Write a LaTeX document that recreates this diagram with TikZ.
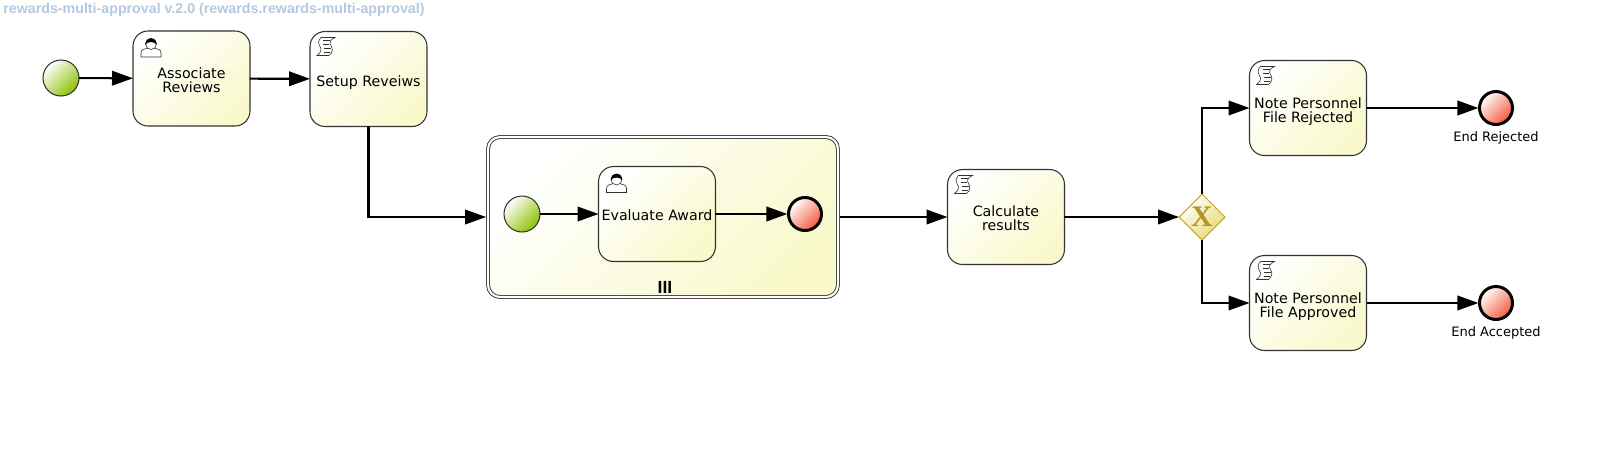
\documentclass[tikz,border=0pt]{standalone}
\usepackage{fontspec}
\setmainfont{DejaVu Sans}
\newfontfamily\titlefont{Liberation Sans}
\newfontfamily\gatefont{Liberation Serif}
\usetikzlibrary{arrows.meta,shapes.geometric}
\definecolor{titleblue}{HTML}{B4C8E0}
\definecolor{taskyellow}{HTML}{F9F9CC}
\definecolor{startgreen}{HTML}{8CC000}
\definecolor{endred}{HTML}{F4583C}
\definecolor{gategold}{HTML}{E8DA70}
\definecolor{gateline}{HTML}{C8A030}
\definecolor{gatex}{HTML}{B8922A}
\tikzset{
  tasknode/.style={draw=black!80,line width=.6pt,rounded corners=.3cm,minimum width=2.34cm,minimum height=1.9cm,outer sep=0pt,inner xsep=0pt,
    top color=white,bottom color=taskyellow,shading angle=45,align=center,font=\fontsize{8.1}{8}\selectfont,
    text height=#1,text depth=0pt},
  tasknode/.default=7.5pt,
  subnode/.style={draw=black!80,line width=.5pt,double=white,double distance=1.2pt,rounded corners=.24cm,minimum width=7cm,minimum height=3.2cm,
    outer sep=1.1pt,top color=white,bottom color=taskyellow,shading angle=45},
  startevent/.style={circle,draw=black!80,line width=.6pt,minimum size=.72cm,outer sep=0pt,top color=white,bottom color=startgreen,shading angle=45},
  endevent/.style={circle,draw=black,line width=1.7pt,minimum size=.66cm,outer sep=.6pt,top color=white,bottom color=endred,shading angle=45},
  gatenode/.style={diamond,draw=gateline,line width=.6pt,minimum size=.92cm,inner sep=0pt,outer sep=0pt,top color=white,bottom color=gategold,shading angle=45,
    text=gatex,font=\fontsize{17}{17}\bfseries\gatefont},
  endlabel/.style={font=\fontsize{7.4}{8}\selectfont,inner sep=0pt,yshift=-.12cm},
  flowline/.style={line width=1.2pt,-{Triangle[length=.42cm,width=.29cm]}},
  usericon/.pic={
    \draw[fill=white,draw=black!80,line width=.35pt] (-10,10) -- (-10,6) .. controls (-10,2) and (-6,2) .. (-3,1) -- (3,1) .. controls (6,2) and (10,2) .. (10,6) -- (10,10) -- cycle;
    \draw[fill=white,draw=black!80,line width=.35pt] (0,-3) circle (5.5);
    \fill[black] (-5.5,-2) .. controls (-6.5,-11) and (6.5,-11) .. (5.5,-2) .. controls (4,-6) and (-4,-6) .. cycle;
  },
  scripticon/.pic={
    \draw[fill=white,draw=black!80,line width=.35pt] (-5,-9) -- (9,-9) .. controls (4,-7) and (3,-4) .. (5,-1) .. controls (7,2) and (7,6) .. (3,9) -- (-9,9) .. controls (-5,6) and (-4,3) .. (-6,0) .. controls (-8,-3) and (-8,-6) .. cycle;
    \draw[draw=black!80,line width=.35pt] (-3,-6) -- (4,-6) (-3,-2) -- (3,-2) (-2,2) -- (5,2) (-2,6) -- (4,6);
  }
}
\begin{document}
\begin{tikzpicture}[x=.02cm,y=-.02cm]
  \useasboundingbox (0,0) rectangle (1600,451);
  \node [anchor=west,inner sep=0pt,text=titleblue,font=\fontsize{8.1}{9}\bfseries\titlefont] (title) at (3,10) {rewards-multi-approval v.2.0 (rewards.rewards-multi-approval)};
  % top row
  \node [startevent] (start) at (61,78) {};
  \node [tasknode=15.5pt] (assoc) at (191.5,78.5) {Associate\\Reviews};
  \node [tasknode=8.1pt] (setup) at (368.5,79) {Setup Reveiws};
  % multi instance block
  \node [subnode] (multi) at (663,217) {};
  \node [font=\fontsize{10}{10}\bfseries\titlefont] (marker) at (665,287) {III};
  \node [startevent] (substart) at (522,214) {};
  \node [tasknode] (evaluate) at (657,214) {Evaluate Award};
  \node [endevent] (subend) at (805,214) {};
  % right part
  \node [tasknode=15.3pt] (calc) at (1006,217) {Calculate\\results};
  \node [gatenode] (gate) at (1202,217) {X};
  \node [tasknode=16.9pt] (rejected) at (1308,108) {Note Personnel\\File Rejected};
  \node [tasknode=16.5pt] (approved) at (1308,303) {Note Personnel\\File Approved};
  \node [endevent,label={[endlabel]below:End Rejected}] (endrej) at (1496,108) {};
  \node [endevent,label={[endlabel]below:End Accepted}] (endacc) at (1496,303) {};
  % icons
  \pic at ([shift={(18,16)}]assoc.north west) {usericon};
  \pic at ([shift={(16,15)}]setup.north west) {scripticon};
  \pic at ([shift={(18,16)}]evaluate.north west) {usericon};
  \pic at ([shift={(16,15)}]calc.north west) {scripticon};
  \pic at ([shift={(16,15)}]rejected.north west) {scripticon};
  \pic at ([shift={(16,15)}]approved.north west) {scripticon};
  % flows
  \draw [flowline] (start) -- (assoc);
  \draw [flowline] (assoc) -- (setup);
  \draw [flowline] (setup) |- (multi);
  \draw [flowline] (substart) -- (evaluate);
  \draw [flowline] (evaluate) -- (subend);
  \draw [flowline] (multi) -- (calc);
  \draw [flowline] (calc) -- (gate);
  \draw [flowline] (gate) |- (rejected);
  \draw [flowline] (gate) |- (approved);
  \draw [flowline] (rejected) -- (endrej);
  \draw [flowline] (approved) -- (endacc);
\end{tikzpicture}
\end{document}
